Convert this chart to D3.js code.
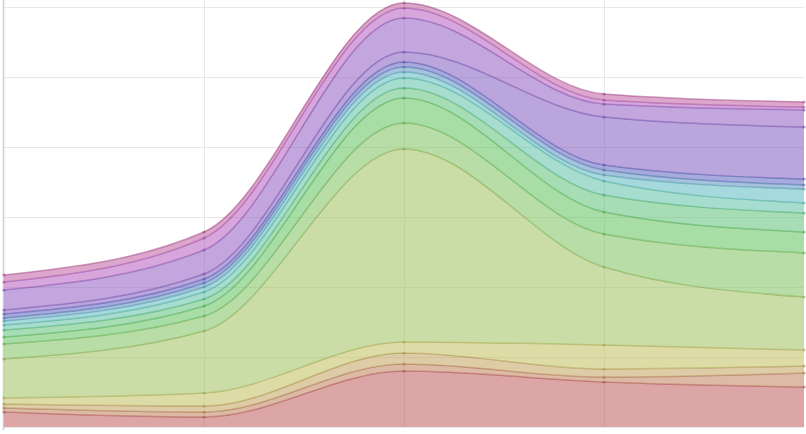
<!DOCTYPE html>
<html>
<head>
<meta charset="utf-8">
<script src="https://cdn.jsdelivr.net/npm/d3@7"></script>
<style>
  body { margin: 0; background: #fff; }
  svg { display: block; }
  .grid line { stroke: #e8e8e8; stroke-width: 1; }
  .grid path { display: none; }
</style>
</head>
<body>
<svg id="chart" width="806" height="434"></svg>
<script>
// x positions (no labels shown in the chart)
const steps = [0, 1, 2, 3, 4];

// stacked series, bottom to top
const s1  = [15, 10, 56, 45, 40];
const s2  = [4, 5, 7, 5, 14];
const s3  = [4, 6, 11, 8, 7];
const s4  = [6, 13, 11, 24, 16];
const s5  = [39, 62, 193, 78, 53];
const s6  = [15, 15, 26, 33, 44];
const s7  = [7, 10, 25, 22, 21];
const s8  = [7, 7, 10, 17, 19];
const s9  = [5, 7, 10, 14, 10];
const s10 = [4, 5, 6, 6, 14];
const s11 = [3, 4, 5, 5, 4];
const s12 = [4, 4, 5, 5, 6];
const s13 = [4, 5, 10, 48, 52];
const s14 = [20, 24, 34, 13, 17];
const s15 = [8, 12, 10, 4, 3];
const s16 = [7, 6, 5, 6, 5];

const seriesList = [s1, s2, s3, s4, s5, s6, s7, s8, s9, s10, s11, s12, s13, s14, s15, s16];
const hues = [0, 22, 42, 58, 80, 100, 118, 136, 165, 185, 210, 235, 262, 270, 292, 318];

const yTicks = [0, 70, 140, 210, 280, 350, 420];

const width = 806, height = 434;
const svg = d3.select("#chart");

const x = d3.scaleLinear().domain([0, 4]).range([4, 804]);
const y = d3.scaleLinear().domain([0, 420]).range([427, 7]);

// build rows for d3.stack
const keys = seriesList.map((d, i) => "s" + (i + 1));
const rows = steps.map((s, j) => {
    const row = { step: s };
    seriesList.forEach((vals, i) => { row[keys[i]] = vals[j]; });
    return row;
});
const stacked = d3.stack().keys(keys)(rows);

// grid
svg.append("g")
    .attr("class", "grid")
    .attr("transform", "translate(4,0)")
    .call(d3.axisLeft(y).tickValues(yTicks).tickSize(-800).tickFormat(""));

svg.append("g")
    .attr("class", "grid")
    .attr("transform", "translate(0,427)")
    .call(d3.axisBottom(x).tickValues([1, 2, 3]).tickSize(-427).tickFormat(""));

// left axis line
svg.append("line")
    .attr("x1", 3.5).attr("x2", 3.5)
    .attr("y1", 0).attr("y2", 430)
    .attr("stroke", "#cfcfcf")
    .attr("stroke-width", 1.5);

const fillColor = i => d3.hsl(hues[i], 0.45, 0.56);
const lineColor = i => d3.hsl(hues[i], 0.45, 0.42);

const area = d3.area()
    .x(d => x(d.data.step))
    .y0(d => y(d[0]))
    .y1(d => y(d[1]))
    .curve(d3.curveMonotoneX);

const topLine = d3.line()
    .x(d => x(d.data.step))
    .y(d => y(d[1]))
    .curve(d3.curveMonotoneX);

const layers = svg.append("g").selectAll("g")
    .data(stacked)
    .join("g");

layers.append("path")
    .attr("d", area)
    .attr("fill", (d, i) => fillColor(i))
    .attr("fill-opacity", 0.55);

layers.append("path")
    .attr("d", topLine)
    .attr("fill", "none")
    .attr("stroke", (d, i) => lineColor(i))
    .attr("stroke-opacity", 0.5)
    .attr("stroke-width", 1.5);

layers.selectAll("circle")
    .data((d, i) => d.map(p => ({ p: p, i: i })))
    .join("circle")
    .attr("cx", d => x(d.p.data.step))
    .attr("cy", d => y(d.p[1]))
    .attr("r", 1.6)
    .attr("fill", d => lineColor(d.i))
    .attr("fill-opacity", 0.5);
</script>
</body>
</html>
